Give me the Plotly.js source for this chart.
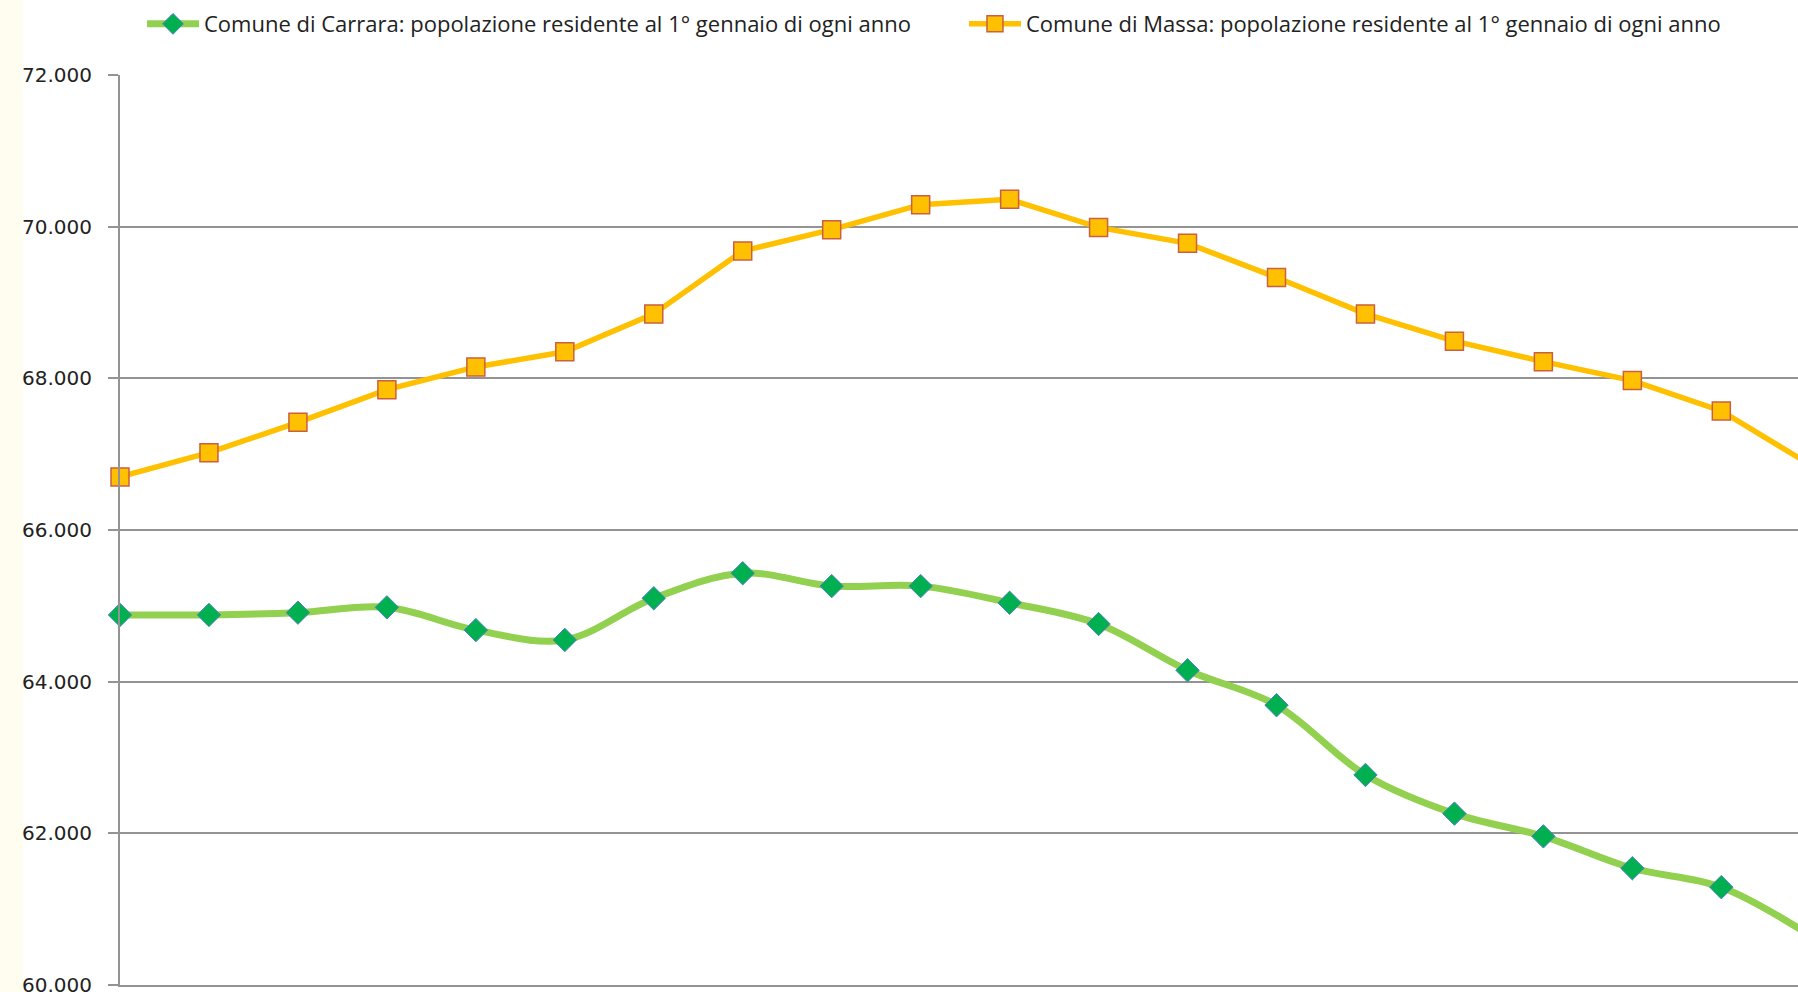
<!DOCTYPE html>
<html>
<head>
<meta charset="utf-8">
<script src="https://cdn.plot.ly/plotly-3.0.1.min.js"></script>
<style>
  html, body { margin: 0; padding: 0; }
  body { width: 1798px; height: 992px; overflow: hidden;
         background: linear-gradient(to right, #FFFDF0 0px, #FFFDF0 23px, #FFFFFF 23px, #FFFFFF 100%); }
  #chart { width: 1798px; height: 992px; }
</style>
</head>
<body>
<div id="chart"></div>
<script>
// Data points (category index along the x axis; year labels are not visible in the source)
const punti = [0, 1, 2, 3, 4, 5, 6, 7, 8, 9, 10, 11, 12, 13, 14, 15, 16, 17, 18, 19];

const nomeCarrara = 'Comune di Carrara: popolazione residente al 1° gennaio di ogni anno';
const nomeMassa = 'Comune di Massa: popolazione residente al 1° gennaio di ogni anno';

const carrara = [64880, 64880, 64910, 64980, 64680, 64550, 65100, 65430, 65260, 65260,
                 65040, 64760, 64150, 63690, 62770, 62260, 61960, 61540, 61290, 60650];

const massa = [66700, 67020, 67420, 67850, 68150, 68350, 68850, 69680, 69960, 70290,
               70360, 69990, 69780, 69330, 68850, 68490, 68220, 67970, 67570, 66860];

const yTicks = [60000, 62000, 64000, 66000, 68000, 70000, 72000];

const traces = [
  {
    x: punti, y: carrara, name: nomeCarrara, type: 'scatter', mode: 'lines+markers',
    line: { color: '#92D050', width: 7, shape: 'spline', smoothing: 1 },
    marker: { symbol: 'diamond', size: 18, color: '#00B050', line: { color: '#4F81BD', width: 1 } },
    cliponaxis: false
  },
  {
    x: punti, y: massa, name: nomeMassa, type: 'scatter', mode: 'lines+markers',
    line: { color: '#FFC000', width: 5.5 },
    marker: { symbol: 'square', size: 18, color: '#FFC000', line: { color: '#C9603F', width: 1.5 } },
    cliponaxis: false
  }
];

const layout = {
  width: 1798, height: 992,
  margin: { l: 120, r: 0, t: 75, b: 7 },
  paper_bgcolor: 'rgba(0,0,0,0)',
  plot_bgcolor: '#FFFFFF',
  separators: ',.',
  showlegend: true,
  legend: {
    orientation: 'h', x: 0.0131, xanchor: 'left', y: 1.056, yanchor: 'middle',
    font: { family: 'Open Sans, sans-serif', size: 22, color: '#222222' },
    itemwidth: 52, entrywidth: 755, entrywidthmode: 'pixels',
    bgcolor: 'rgba(0,0,0,0)', traceorder: 'normal'
  },
  xaxis: {
    range: [0, 18.862], showgrid: false, zeroline: false, showticklabels: false,
    showline: true, linecolor: '#939393', linewidth: 2, ticks: '', fixedrange: true
  },
  yaxis: {
    range: [60000, 72000], tickvals: yTicks, tickformat: ',d',
    showgrid: true, gridcolor: '#939393', gridwidth: 2, zeroline: false,
    showline: true, linecolor: '#939393', linewidth: 2,
    ticks: 'outside', ticklen: 10, tickcolor: '#939393', tickwidth: 2,
    ticklabelstandoff: 12, ticklabeloverflow: 'allow',
    tickfont: { family: 'DejaVu Sans, Verdana, sans-serif', size: 20, color: '#222222' },
    fixedrange: true
  }
};

Plotly.newPlot('chart', traces, layout, { displayModeBar: false, staticPlot: true });
</script>
</body>
</html>
